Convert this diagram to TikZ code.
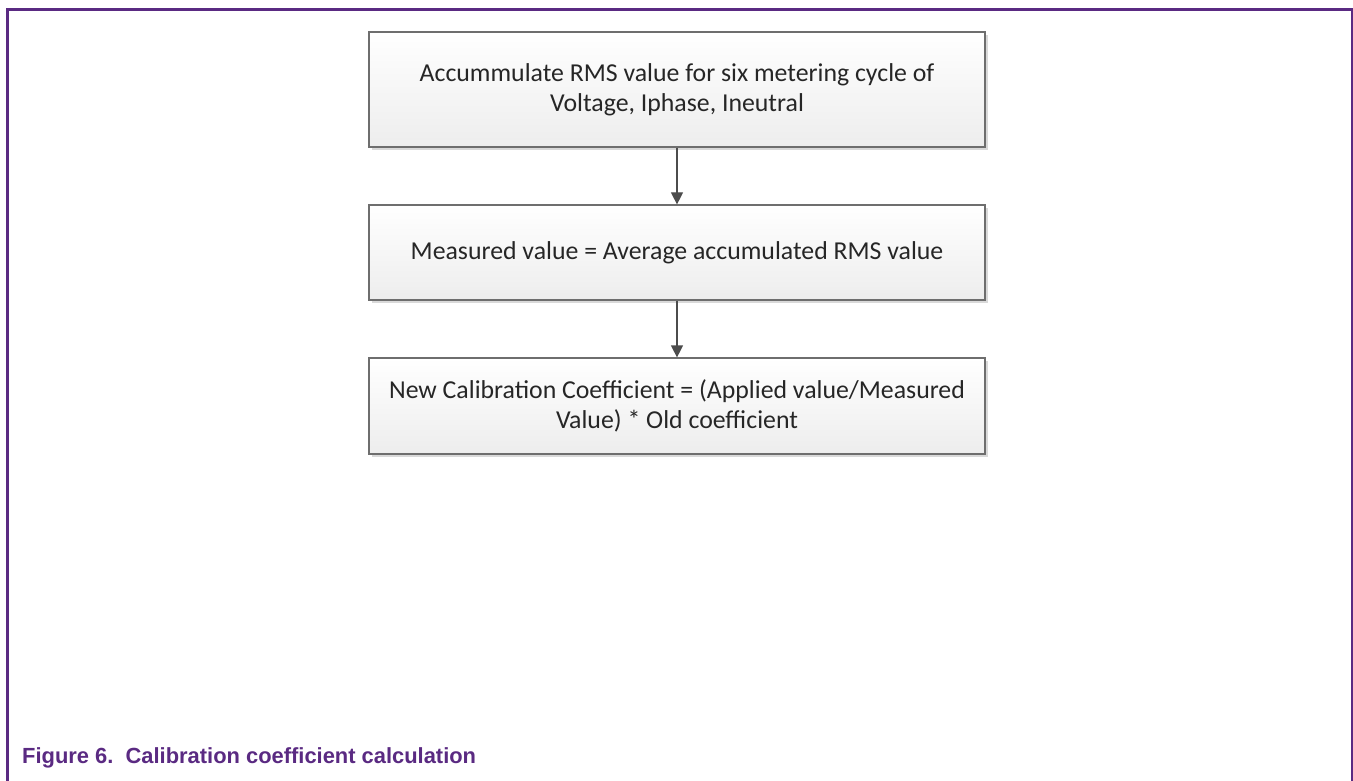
\documentclass[tikz,border=0pt]{standalone}
\usepackage{fontspec}
\setmainfont{Carlito}
\newfontfamily\capfont{Liberation Sans}
\usetikzlibrary{arrows.meta,shadows}
\definecolor{nxppurple}{HTML}{5A2A82}
\definecolor{boxline}{HTML}{6E6E6E}
\definecolor{boxbot}{HTML}{EDEDED}
\tikzset{
  stepbox/.style={draw=boxline, line width=1.2pt, top color=white, bottom color=boxbot,
    minimum width=616pt, inner sep=0pt, align=center, font=\fontsize{25.8}{30}\selectfont,
    text=black!85,
    drop shadow={shadow xshift=3pt, shadow yshift=-3pt, fill=black!25, opacity=0.6}},
  flow/.style={draw=black!70, line width=1.2pt, -{Triangle[length=12pt,width=12pt]}}
}
\begin{document}
\begin{tikzpicture}[x=1pt,y=-1pt]
\useasboundingbox (0,0) rectangle (1353,781);
% outer frame
\draw[nxppurple, line width=3pt] (7,781) -- (7,10) -- (1352,10) -- (1352,781);
% process steps
\node[stepbox, minimum height=115pt] (s1) at (677,89.5)
  {Accummulate RMS value for six metering cycle of\\Voltage, Iphase, Ineutral};
\node[stepbox, minimum height=95pt] (s2) at (677,252.5)
  {Measured value = Average accumulated RMS value};
\node[stepbox, minimum height=96pt] (s3) at (677,406)
  {New Calibration Coefficient = (Applied value/Measured\\Value) * Old coefficient};
\draw[flow] (s1) -- (s2);
\draw[flow] (s2) -- (s3);
% caption
\node[anchor=base west, inner sep=0pt, text=nxppurple, font=\capfont\bfseries\fontsize{21.9}{24}\selectfont] (cap) at (22,763)
  {Figure 6.\ \ Calibration coefficient calculation};
\end{tikzpicture}
\end{document}
